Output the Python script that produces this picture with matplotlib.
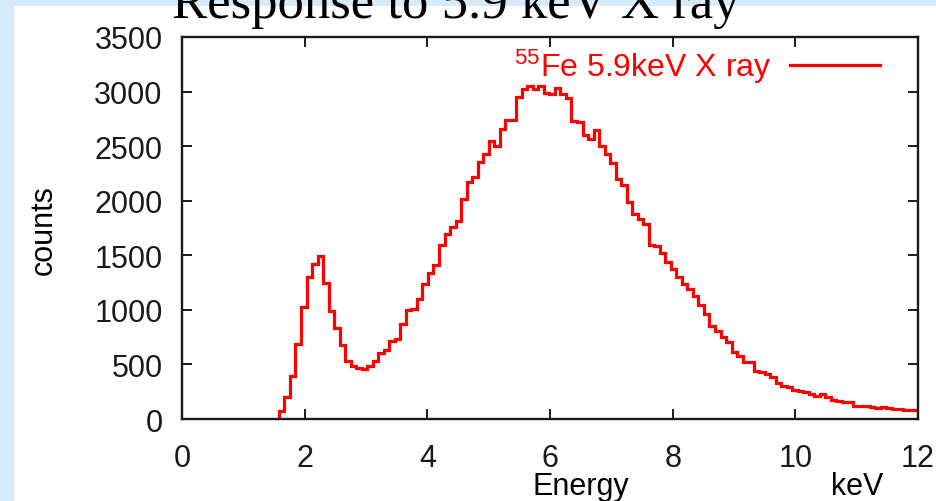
import matplotlib
matplotlib.use('Agg')
import matplotlib.pyplot as plt
from matplotlib.patches import Rectangle
import numpy as np

plt.rcParams['font.family'] = ['Liberation Sans', 'DejaVu Sans']
plt.rcParams['mathtext.fontset'] = 'custom'
plt.rcParams['mathtext.rm'] = 'Liberation Sans'
plt.rcParams['mathtext.default'] = 'regular'

# histogram: 0.09 keV bins starting at 1.58 keV
bin_start = 1.58
bin_width = 0.09
counts = [70, 200, 395, 685, 1030, 1300, 1420, 1490, 1250, 990,
          835, 680, 530, 490, 465, 455, 490, 535, 605, 628,
          718, 735, 875, 1000, 1005, 1100, 1235, 1340, 1410, 1590,
          1695, 1755, 1815, 2015, 2170, 2215, 2355, 2430, 2550, 2505,
          2660, 2735, 2740, 2950, 3025, 3050, 3025, 3050, 2990, 2975,
          3035, 2975, 2945, 2730, 2720, 2600, 2570, 2645, 2505, 2430,
          2350, 2200, 2140, 1985, 1880, 1830, 1785, 1590, 1585, 1525,
          1435, 1375, 1300, 1235, 1190, 1130, 1040, 960, 855, 810,
          748, 703, 610, 580, 520, 525, 443, 428, 412, 385,
          330, 305, 290, 262, 258, 244, 229, 214, 229, 199,
          170, 168, 155, 152, 122, 118, 116, 114, 98, 107,
          105, 92, 90, 86, 85, 82]
edges = bin_start + bin_width * np.arange(len(counts) + 1)

xticks = [0, 2, 4, 6, 8, 10, 12]
yticks = [0, 500, 1000, 1500, 2000, 2500, 3000, 3500]

fig = plt.figure(figsize=(9.37, 5.02), dpi=100)
fig.patch.set_facecolor('white')

# slide background strips
fig.add_artist(Rectangle((0, 0), 14 / 937, 1, transform=fig.transFigure,
                         color='#d5ebfb', lw=0, zorder=0))
fig.add_artist(Rectangle((0, 1 - 7 / 502), 1, 7 / 502, transform=fig.transFigure,
                         color='#d5ebfb', lw=0, zorder=0))

fig.text(0.486, 1 - 18 / 502, 'Response to 5.9 keV X ray', family='Liberation Serif',
         fontsize=38, ha='center', va='baseline', color='black', zorder=5)

ax = fig.add_axes([182 / 937, 1 - 420 / 502, 736 / 937, 382 / 502])
ax.stairs(counts, edges, color='#ff0000', lw=2.3, baseline=0,
          label=r'$^{55}$Fe 5.9keV X ray')

ax.set_xlim(0, 12)
ax.set_ylim(0, 3500)
ax.set_xticks(xticks)
ax.set_yticks(yticks)
ax.tick_params(direction='in', length=7, width=1.4, top=True, right=True,
               labelsize=22, colors='#1a1a1a')
ax.tick_params(axis='x', pad=17)
ax.tick_params(axis='y', pad=14)
for s in ax.spines.values():
    s.set_linewidth(1.7)
    s.set_color('#1a1a1a')

ax.set_ylabel('counts', fontsize=22)
ax.yaxis.set_label_coords(-0.168, 0.497)
ax.set_xlabel('Energy', fontsize=22)
ax.xaxis.set_label_coords(0.542, -0.135)
ax.text(0.917, -0.135, 'keV', transform=ax.transAxes, fontsize=22,
        ha='center', va='top')

leg = ax.legend(loc='upper right', bbox_to_anchor=(0.948, 0.975), frameon=False,
                markerfirst=False, handlelength=2.8, handletextpad=0.6,
                borderpad=0, borderaxespad=0, fontsize=23, labelcolor='#ff0000')

fig.savefig('out.png', dpi=100)
